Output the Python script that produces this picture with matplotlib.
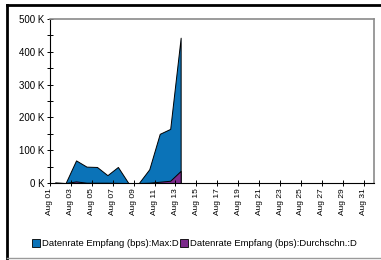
import matplotlib
matplotlib.use("Agg")
import matplotlib.pyplot as plt
from matplotlib.patches import Patch
from matplotlib.lines import Line2D
from matplotlib.ticker import MultipleLocator

plt.rcParams['font.family'] = ['Liberation Sans', 'DejaVu Sans']

# daily values (K bps), one point per day, plotted at mid-day
days = [1, 2, 3, 4, 5, 6, 7, 8, 9, 10, 11, 12, 13]
max_vals = [2, 0, 69, 50, 49, 24, 49, 0, 0, 42, 150, 165, 443]
avg_vals = [0.5, 0, 5, 1, 1, 1, 0.5, 0, 0, 1, 4, 7, 37]

tick_days = list(range(1, 32, 2))
tick_labels = ["Aug %02d" % d for d in tick_days]
y_ticks = [0, 100, 200, 300, 400, 500]
y_labels = ["%d K" % v for v in y_ticks]

series_names = ["Datenrate Empfang (bps):Max:D", "Datenrate Empfang (bps):Durchschn.:D"]
colors = ["#0b73b8", "#7b2a8b"]

fig = plt.figure(figsize=(3.81, 2.60), dpi=100)
ax = fig.add_axes([0.131, 0.296, 0.851, 0.631])

x = [d + 0.5 for d in days]
ax.fill_between(x, max_vals, 0, facecolor=colors[0], edgecolor="black", linewidth=0.7)
ax.fill_between(x, avg_vals, 0, facecolor=colors[1], edgecolor="black", linewidth=0.7)

ax.set_xlim(1, 32)
ax.set_ylim(0, 500)
ax.set_xticks(tick_days)
ax.set_xticklabels(tick_labels, rotation=90, fontsize=6)
ax.set_yticks(y_ticks)
ax.set_yticklabels(y_labels, fontsize=7)
ax.yaxis.set_minor_locator(MultipleLocator(50))
ax.tick_params(axis="both", which="both", direction="inout", color="black", width=0.7, pad=1.5)
ax.tick_params(axis="both", which="major", length=5)
ax.tick_params(axis="y", which="minor", length=4)

for side in ["top", "right"]:
    ax.spines[side].set_color("#8a8a8a")
    ax.spines[side].set_linewidth(1.2)
for side in ["left", "bottom"]:
    ax.spines[side].set_color("black")
    ax.spines[side].set_linewidth(0.8)

handles = [Patch(facecolor=c, edgecolor="black", linewidth=0.6) for c in colors]
fig.legend(handles, series_names, loc="center", bbox_to_anchor=(0.51, 0.062), ncol=2,
           frameon=False, fontsize=6.8, handlelength=0.9, handleheight=0.9,
           handletextpad=0.2, columnspacing=0.1, borderpad=0)

# outer frame of the panel
fig.add_artist(Line2D([7 / 381, 7 / 381], [0, 1 - 5 / 260], color="black", linewidth=2))
fig.add_artist(Line2D([7 / 381, 1], [1 - 5 / 260, 1 - 5 / 260], color="black", linewidth=2))
fig.add_artist(Line2D([7 / 381, 1], [2 / 260, 2 / 260], color="#9a9a9a", linewidth=1))

fig.savefig("out.png", dpi=100)
